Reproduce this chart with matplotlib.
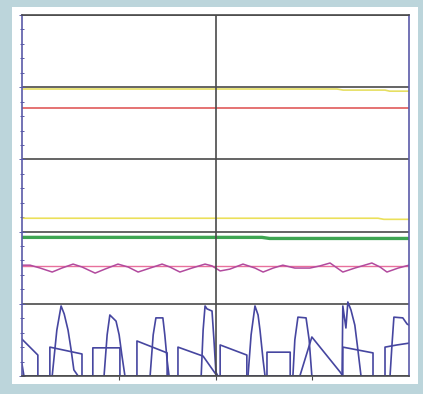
import matplotlib
matplotlib.use('Agg')
import matplotlib.pyplot as plt
from matplotlib.patches import Rectangle

# trend values, time axis 0-100, value axis 0-100
yellow_top_t = [0, 81.4, 83.0, 93.8, 95.0, 100]
yellow_top_v = [79.5, 79.5, 79.2, 79.2, 78.9, 78.9]

red_t = [0, 100]
red_v = [74.2, 74.2]

yellow_low_t = [0, 92.0, 93.5, 100]
yellow_low_v = [43.7, 43.7, 43.4, 43.4]

green_t = [0, 62.0, 64.0, 100]
green_v = [38.4, 38.4, 38.1, 38.1]

pink_flat_t = [0, 100]
pink_flat_v = [30.5, 30.5]

pink_wave_t = [0, 2.1, 4.7, 7.8, 10.3, 13.2, 15.5, 17.1, 18.9, 21.4, 24.8, 27.4, 30.0,
               33.1, 36.2, 38.2, 40.8, 43.9, 47.3, 49.1, 51.2, 53.7, 57.1, 60.2, 62.3,
               64.9, 67.4, 70.5, 74.4, 77.0, 79.6, 82.9, 86.0, 90.4, 92.5, 94.3, 97.2, 100]
pink_wave_v = [30.7, 30.7, 29.9, 28.8, 29.9, 31.0, 30.2, 29.4, 28.5, 29.6, 31.0, 30.2, 28.8,
               29.9, 31.0, 30.2, 28.8, 29.9, 31.0, 30.5, 29.1, 29.6, 31.0, 29.9, 28.8,
               29.9, 30.7, 29.9, 29.9, 30.5, 31.3, 28.8, 29.9, 31.3, 30.2, 28.8, 29.9, 30.7]

pulse_t = [0, 0.5, 7.8, 9.0, 10.1, 10.9, 11.9, 12.7, 13.4, 14.5,
           21.2, 22.0, 22.7, 24.3, 25.1, 25.8, 26.6,
           33.1, 33.9, 34.6, 36.4, 36.9, 37.5, 38.0,
           46.3, 46.8, 47.3, 47.8, 49.1, 49.6, 50.1, 50.6,
           58.4, 59.2, 60.2, 61.0, 61.5, 62.3, 62.8,
           70.0, 70.5, 71.3, 73.4, 74.2, 74.9,
           82.7, 82.9, 83.7, 84.2, 85.0, 86.0, 86.8, 87.6,
           95.1, 95.6, 96.1, 98.4, 99.5, 100]
pulse_v = [3.3, 0, 0, 12.7, 19.4, 17.2, 12.7, 7.2, 1.7, 0,
           0, 11.4, 16.9, 15.2, 11.4, 5.8, 0,
           0, 11.4, 16.1, 16.1, 11.4, 4.4, 0,
           0, 12.7, 19.4, 18.6, 18.0, 10.0, 1.1, 0,
           0, 11.4, 19.4, 16.9, 12.7, 4.4, 0,
           0, 10.0, 16.3, 16.1, 10.0, 0,
           0, 19.4, 13.3, 20.5, 18.3, 14.1, 7.2, 0,
           0, 8.6, 16.3, 16.1, 14.4, 14.1]

block_t = [0, 4.1, 4.1, 7.2, 7.2, 15.5, 15.5, 18.3, 18.3, 25.3,
           25.3, 29.7, 29.7, 37.5, 37.5, 40.3, 40.3, 46.8, 50.4, 51.2,
           51.2, 58.1, 58.1, 63.3, 63.3, 69.3, 69.3, 71.8, 74.9, 82.2,
           82.9, 82.9, 90.7, 90.7, 93.8, 93.8, 96.9, 100]
block_v = [10.2, 5.8, 0, 0, 8.0, 6.1, 0, 0, 7.8, 7.8,
           0, 0, 9.7, 6.4, 0, 0, 8.0, 5.5, 0, 0,
           8.6, 5.8, 0, 0, 6.6, 6.6, 0, 0, 10.8, 1.1,
           0, 8.0, 6.4, 0, 0, 8.0, 8.6, 9.1]

fig = plt.figure(figsize=(4.23, 3.94), dpi=100)
fig.patch.set_facecolor('#bcd5db')
# white panel behind the plot
fig.patches.append(Rectangle((12 / 423, 10 / 394), 406 / 423, 377 / 394,
                             transform=fig.transFigure, facecolor='white',
                             edgecolor='none', zorder=-5))

ax = fig.add_axes([22 / 423, 18 / 394, 387 / 423, 361 / 394])
ax.set_zorder(2)
ax.set_facecolor('white')

grid_col = '#4a4a4a'
axis_blue = '#5a5aa8'
line_blue = '#4646a0'

ax.plot(yellow_top_t, yellow_top_v, color='#e6df62', lw=1.2)
ax.plot(red_t, red_v, color='#e05a5a', lw=1.2)
ax.plot(yellow_low_t, yellow_low_v, color='#ebe05a', lw=1.2)
ax.plot(green_t, green_v, color='#3ea552', lw=2.4)
ax.plot(pink_flat_t, pink_flat_v, color='#e8709c', lw=1.0)
ax.plot(pink_wave_t, pink_wave_v, color='#b24a9e', lw=1.1)
ax.plot(block_t, block_v, color=line_blue, lw=1.2)
ax.plot(pulse_t, pulse_v, color=line_blue, lw=1.2)

ax.set_xlim(0, 100)
ax.set_ylim(0, 100)

ax.set_yticks(range(0, 101, 20))
ax.set_yticks(range(0, 101, 4), minor=True)
ax.set_xticks([25, 50, 75])
ax.set_xticklabels([])
ax.set_yticklabels([])
ax.grid(axis='y', which='major', color=grid_col, lw=1.2)
ax.axvline(50, color=grid_col, lw=1.2)
ax.set_axisbelow(True)

ax.tick_params(axis='y', which='both', direction='inout', color=axis_blue,
               length=3, width=0.7)
ax.tick_params(axis='y', which='major', length=4)
ax.tick_params(axis='x', direction='out', color=grid_col, length=3, width=0.8)

for side in ['left', 'right']:
    ax.spines[side].set_color(axis_blue)
    ax.spines[side].set_linewidth(1.2)
for side in ['top', 'bottom']:
    ax.spines[side].set_color(grid_col)
    ax.spines[side].set_linewidth(1.2)

plt.savefig('out.png', dpi=100)
plt.close()
